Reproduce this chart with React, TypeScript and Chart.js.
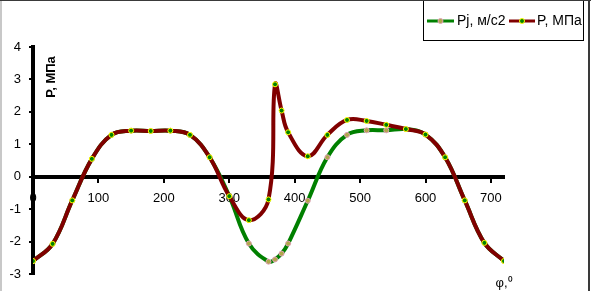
import React, { useEffect, useRef } from "react";
import { Chart, registerables } from "chart.js";

Chart.register(...registerables);

const angles = [0, 30, 60, 90, 120, 150, 180, 210, 240, 270, 300, 330, 360, 370, 380, 390, 420, 450, 480, 510, 540, 570, 600, 630, 660, 690, 720];
const pjValues = [-2.6, -2.07, -0.73, 0.55, 1.29, 1.42, 1.41, 1.42, 1.29, 0.6, -0.6, -2.06, -2.62, -2.55, -2.37, -2.06, -0.74, 0.6, 1.29, 1.43, 1.43, 1.47, 1.3, 0.6, -0.73, -2.04, -2.6];
const pValues = [-2.6, -2.07, -0.73, 0.55, 1.29, 1.42, 1.41, 1.42, 1.29, 0.6, -0.6, -1.34, -0.7, 2.85, 2.04, 1.37, 0.63, 1.29, 1.75, 1.72, 1.6, 1.47, 1.3, 0.6, -0.73, -2.04, -2.6];
const seriesNames = ["Pj, м/с2", "P, МПа"];
const yTitle = "P, МПа";
const xTitle = "φ,⁰";

const FONT = "'Liberation Sans', Arial, sans-serif";
const GREEN = "#008000";
const RED = "#800000";
const PJ_POINT_BG = "#b0a84a";
const PJ_POINT_BORDER = "#e0a0b8";
const P_POINT_BG = "#008000";
const P_POINT_BORDER = "#ffff00";

const decor = {
  id: "decor",
  beforeDraw(chart: any) {
    const ctx = chart.ctx;
    ctx.save();
    ctx.fillStyle = "#ffffff";
    ctx.fillRect(0, 0, chart.width, chart.height);
    ctx.restore();
  },
  afterDraw(chart: any) {
    const ctx = chart.ctx;
    ctx.save();
    // legend box
    ctx.strokeStyle = "#000000";
    ctx.lineWidth = 1;
    ctx.strokeRect(423.5, -1.5, 160, 42);
    const items = [
      { name: seriesNames[0], color: GREEN, bg: PJ_POINT_BG, bd: PJ_POINT_BORDER, x0: 427, x1: 454, tx: 457 },
      { name: seriesNames[1], color: RED, bg: P_POINT_BG, bd: P_POINT_BORDER, x0: 509, x1: 535, tx: 537 },
    ];
    const ly = 21;
    for (const it of items) {
      ctx.strokeStyle = it.color;
      ctx.lineWidth = 3;
      ctx.beginPath();
      ctx.moveTo(it.x0, ly);
      ctx.lineTo(it.x1, ly);
      ctx.stroke();
      ctx.fillStyle = it.bg;
      ctx.strokeStyle = it.bd;
      ctx.lineWidth = 1;
      ctx.beginPath();
      ctx.arc((it.x0 + it.x1) / 2, ly, 2.5, 0, Math.PI * 2);
      ctx.fill();
      ctx.stroke();
      ctx.fillStyle = "#000000";
      ctx.font = "14px " + FONT;
      ctx.textAlign = "left";
      ctx.textBaseline = "middle";
      ctx.fillText(it.name, it.tx, ly);
    }
    // y title
    ctx.save();
    ctx.translate(51, 77);
    ctx.rotate(-Math.PI / 2);
    ctx.font = "bold 13px " + FONT;
    ctx.fillStyle = "#000000";
    ctx.textAlign = "center";
    ctx.textBaseline = "middle";
    ctx.fillText(yTitle, 0, 0);
    ctx.restore();
    // x title
    ctx.font = "13px " + FONT;
    ctx.fillStyle = "#000000";
    ctx.textAlign = "center";
    ctx.textBaseline = "middle";
    ctx.fillText(xTitle, 504, 283);
    // frame
    ctx.fillStyle = "#3a3a3a";
    ctx.fillRect(0, 0, chart.width, 1);
    ctx.fillRect(588, 0, 2, chart.height);
    ctx.fillStyle = "#c8c8c8";
    ctx.fillRect(0, 1, 2, chart.height);
    ctx.restore();
  },
};

export default function App() {
  const ref = useRef<HTMLCanvasElement | null>(null);
  useEffect(() => {
    if (!ref.current) return;
    const chart = new Chart(ref.current, {
      type: "line",
      data: {
        datasets: [
          {
            label: seriesNames[1],
            data: angles.map((a, i) => ({ x: a, y: pValues[i] })),
            borderColor: RED,
            borderWidth: 4,
            pointRadius: 2.5,
            pointBackgroundColor: P_POINT_BG,
            pointBorderColor: P_POINT_BORDER,
            pointBorderWidth: 1,
            tension: 0.4,
            fill: false,
          },
          {
            label: seriesNames[0],
            data: angles.map((a, i) => ({ x: a, y: pjValues[i] })),
            borderColor: GREEN,
            borderWidth: 4,
            pointRadius: 2.5,
            pointBackgroundColor: PJ_POINT_BG,
            pointBorderColor: PJ_POINT_BORDER,
            pointBorderWidth: 1,
            tension: 0.4,
            fill: false,
          },
        ],
      },
      options: {
        responsive: false,
        animation: false,
        devicePixelRatio: 1,
        layout: { padding: { left: 0, right: 87, top: 47, bottom: 17 } },
        plugins: { legend: { display: false }, tooltip: { enabled: false } },
        scales: {
          x: {
            type: "linear",
            min: 0,
            max: 720,
            position: { y: 0 } as any,
            ticks: {
              stepSize: 100,
              includeBounds: false,
              color: "#000000",
              font: { family: FONT, size: 13 },
              padding: 10,
              maxRotation: 0,
            },
            grid: { drawOnChartArea: false, drawTicks: true, tickLength: 4, color: "#000000", lineWidth: 2 },
            border: { display: true, color: "#000000", width: 4 },
          },
          y: {
            type: "linear",
            min: -3,
            max: 4,
            position: "left",
            afterFit: (s: any) => { s.width = 33; },
            ticks: {
              stepSize: 1,
              color: "#000000",
              font: { family: FONT, size: 13 },
              padding: 8,
            },
            grid: { drawOnChartArea: false, drawTicks: true, tickLength: 4, color: "#000000", lineWidth: 2 },
            border: { display: true, color: "#000000", width: 4 },
          },
        },
      },
      plugins: [decor],
    });
    return () => chart.destroy();
  }, []);
  return (
    <div style={{ position: "fixed", left: 0, top: 0, width: 591, height: 291 }}>
      <canvas ref={ref} width={591} height={291} style={{ display: "block" }} />
    </div>
  );
}
